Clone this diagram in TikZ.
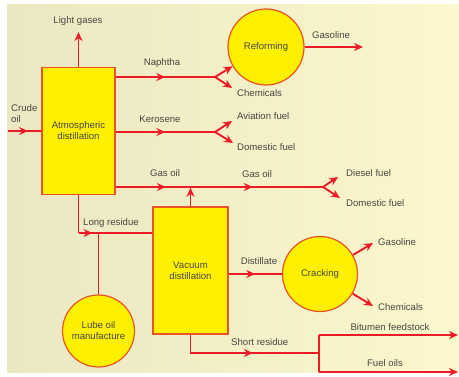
\documentclass[tikz,border=0pt]{standalone}
\usepackage{fontspec}
\setmainfont{Liberation Sans}
\usetikzlibrary{arrows.meta,decorations.markings}

\definecolor{bgcream}{RGB}{252,247,204}
\definecolor{bgshade}{RGB}{234,231,194}
\definecolor{flowred}{RGB}{234,28,38}
\definecolor{unityellow}{RGB}{255,240,0}
\definecolor{unitedge}{RGB}{232,84,36}
\definecolor{labelgray}{RGB}{70,70,66}

\tikzstyle{txt} = [text centered, inner sep=0pt, text=labelgray]
\tikzstyle{lbl} = [inner sep=0pt, anchor=west, align=left, text=labelgray]
\tikzstyle{unit} = [draw=unitedge, fill=unityellow, line width=1.2pt, text=labelgray, align=center, inner sep=0pt]
\tikzstyle{column} = [unit, rectangle, minimum width=73pt, minimum height=127pt]
\tikzstyle{vessel} = [unit, circle, minimum size=76pt]
\tikzstyle{flow} = [draw=flowred, line width=1.9pt]
\tikzstyle{feed} = [flow, -{Stealth[length=9pt,width=8pt]}]
\tikzset{midarr/.style={postaction={decorate}, decoration={markings,
  mark=at position #1 with {\arrow[flowred]{Stealth[length=9pt,width=8pt]}}}}}

\begin{document}
\begin{tikzpicture}[x=1pt, y=-1pt, font=\fontsize{9.6}{11}\selectfont]

% background
\useasboundingbox (0,0) rectangle (459,377);
\shade[left color=bgshade, right color=bgcream] (7,5) rectangle (459,373);

%ATMOSPHERIC
\node[column] (atm) at (78.5,131) {Atmospheric\\distillation};
\coordinate (crudein) at (8,131);
\node[lbl] (crudetxt) at (11,114) {Crude\\oil};
\draw[flow, midarr=0.6] (crudein) -- (atm.west);
\coordinate (lg) at (78.5,32);
\draw[feed] (atm.north) -- (lg);
\node[txt] (lgtxt) at (78,21) {Light gases};

%REFORMING
\node[vessel] (reform) at (266,47) {Reforming};
\coordinate (gas1) at (363,47);
\draw[feed] (reform.east) -- (gas1);
\node[txt] (gas1txt) at (331,35) {Gasoline};

%NAPHTHA
\coordinate (naB) at (215,77);
\coordinate (chem1) at (232,88);
\draw[flow, midarr=0.5] (atm.east |- naB) -- (naB);
\draw[feed] (naB) -- (reform.210);
\draw[feed] (naB) -- (chem1);
\node[txt] (natxt) at (162,63) {Naphtha};
\node[lbl] (chem1txt) at (237,93) {Chemicals};

%KEROSENE
\coordinate (keB) at (215,132);
\coordinate (avi) at (232,121);
\coordinate (dom1) at (233,143);
\draw[flow, midarr=0.5] (atm.east |- keB) -- (keB);
\draw[feed] (keB) -- (avi);
\draw[feed] (keB) -- (dom1);
\node[txt] (ketxt) at (160,119) {Kerosene};
\node[lbl] (avitxt) at (237,116) {Aviation fuel};
\node[lbl] (dom1txt) at (237,147) {Domestic fuel};

%GAS OIL
\coordinate (goJ) at (190.5,187);
\coordinate (goB) at (323,187);
\coordinate (diesel) at (338,177);
\coordinate (dom2) at (340,198);
\draw[flow, midarr=0.67] (atm.east |- goJ) -- (goJ);
\draw[flow, midarr=0.47] (goJ) -- (goB);
\draw[feed] (goB) -- (diesel);
\draw[feed] (goB) -- (dom2);
\node[txt] (go1txt) at (165,173) {Gas oil};
\node[txt] (go2txt) at (257,174) {Gas oil};
\node[lbl] (dieseltxt) at (346,173) {Diesel fuel};
\node[lbl] (dom2txt) at (346,203) {Domestic fuel};

%VACUUM
\node[column, minimum width=75pt] (vac) at (190.5,270.5) {Vacuum\\distillation};
\draw[feed, shorten >=0.8pt] (vac.north) -- (goJ);

%LONG RESIDUE
\coordinate (lrJ) at (78.5,233);
\draw[flow] (atm.south) -- (lrJ);
\draw[flow, midarr=0.19] (lrJ) -- (vac.west |- lrJ);
\node[lbl] (lrtxt) at (83,223) {Long residue};

%LUBE OIL
\node[vessel, minimum size=72pt] (lube) at (98.5,331) {Lube oil\\manufacture};
\draw[flow] (lube.north) -- (lube.north |- lrJ);

%CRACKING
\node[vessel, minimum size=75pt] (crack) at (320,274) {Cracking};
\draw[flow, midarr=0.5] (vac.east |- crack) -- (crack.west);
\node[txt] (disttxt) at (259,261) {Distillate};
\coordinate (gas2) at (373,243);
\coordinate (chem2) at (373,306);
\draw[feed] (crack.30) -- (gas2);
\draw[feed] (crack.-31) -- (chem2);
\node[lbl] (gas2txt) at (378,242) {Gasoline};
\node[lbl] (chem2txt) at (378,307) {Chemicals};

%SHORT RESIDUE
\coordinate (srB) at (319,353);
\coordinate (bitJ) at (319,335);
\coordinate (fuelJ) at (319,372);
\coordinate (bit) at (458,335);
\coordinate (fuel) at (458,372);
\draw[flow, midarr=0.55] (vac.south) |- (srB);
\draw[flow] (bitJ) -- (fuelJ);
\draw[feed] (bitJ) -- (bit);
\draw[feed] (fuelJ) -- (fuel);
\node[lbl] (srtxt) at (231,342) {Short residue};
\node[txt] (bittxt) at (390,327) {Bitumen feedstock};
\node[txt] (fueltxt) at (385,363) {Fuel oils};

\end{tikzpicture}
\end{document}
